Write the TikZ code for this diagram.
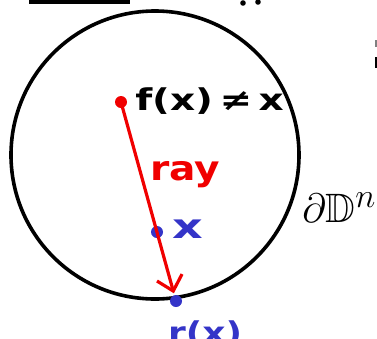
\documentclass[tikz,border=0pt]{standalone}
\usepackage{fontspec}
\usepackage{amssymb}
\setmainfont{DejaVu Sans}
\usetikzlibrary{arrows.meta}
\definecolor{pblue}{RGB}{52,52,200}
\definecolor{pred}{RGB}{240,0,0}
\tikzset{
  lbl/.style={inner sep=0pt, anchor=base west, font=\fontsize{30}{30}\selectfont\bfseries},
  dotb/.style={circle, fill=pblue, inner sep=0pt, minimum size=12pt},
}
\begin{document}
\begin{tikzpicture}[x=1pt,y=-1pt]
\useasboundingbox (0,0) rectangle (377,338);
\clip (0,0) rectangle (377,338);
% partial marks at the edges
\fill (29,-2) rectangle (130,3.5);
\fill (243,3) circle (2.8);
\fill (258,2) circle (2.8);
\fill[gray] (375,40) rectangle (377,47);
\fill (375,57) rectangle (377,68);
% disk boundary
\node[draw, line width=3.6pt, circle, minimum size=288pt, inner sep=0pt] (disk) at (155,155) {};
% points
\node[circle, fill=pred, inner sep=0pt, minimum size=12pt] (p) at (121,102) {};
\node[dotb] (x) at (157,232) {};
\node[dotb] (r) at (176,301) {};
\draw[pred, line width=3.2pt, -{Straight Barb[length=14pt,width=26pt,line width=3.2pt]}, shorten >=8pt] (p.center) -- (r.center);
% labels
\node[lbl, xscale=1.3] (fx) at (135,110) {f(x)\,≠\,x};
\node[lbl, text=pred, xscale=1.15, font=\fontsize{34}{34}\selectfont\bfseries] (ray) at (150,180) {ray};
\node[lbl, text=pblue, xscale=1.4, font=\fontsize{34}{34}\selectfont\bfseries] (xl) at (172,238) {x};
\node[lbl, text=pblue, xscale=1.2] (rl) at (168,343) {r(x)};
\node[inner sep=0pt, anchor=base west, font=\Huge, scale=1.65] (dd) at (302,222) {$\partial\mathbb{D}^n$};
\end{tikzpicture}
\end{document}
